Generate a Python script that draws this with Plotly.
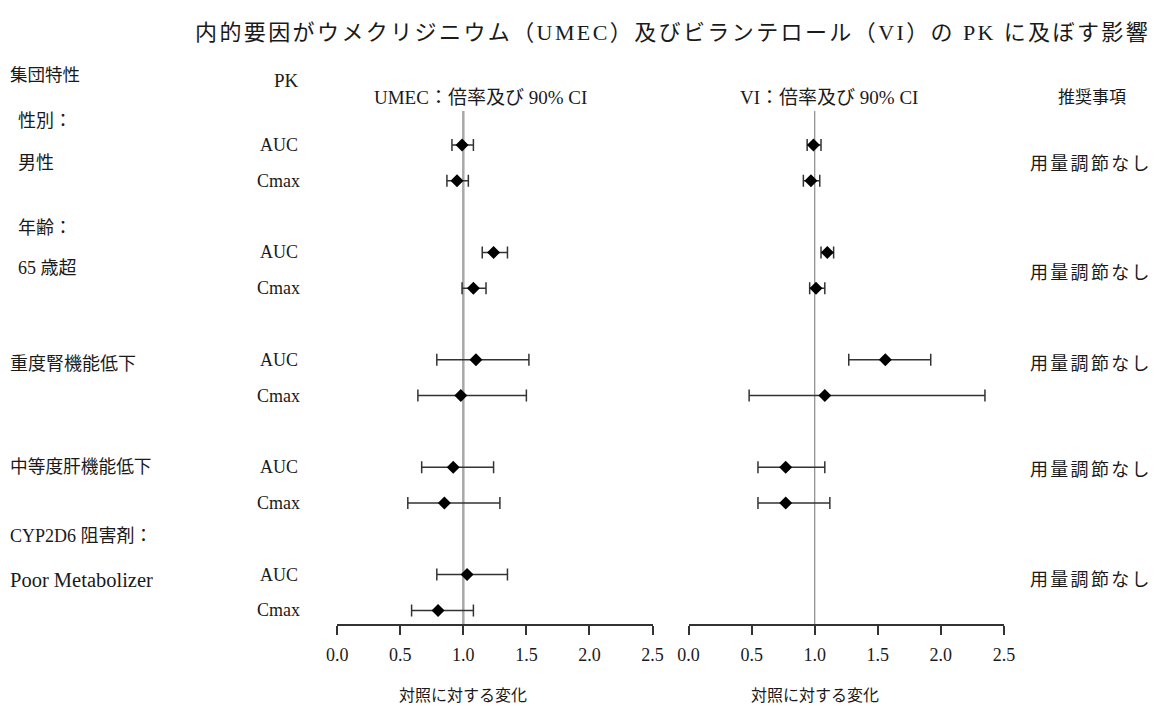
import plotly.graph_objects as go

# --- data -------------------------------------------------------------
group_labels = ["男性", "65 歳超", "重度腎機能低下", "中等度肝機能低下", "Poor Metabolizer"]
pk_params = ["AUC", "Cmax"]

umec_ratio = [0.99, 0.95, 1.24, 1.08, 1.10, 0.98, 0.92, 0.85, 1.03, 0.80]
umec_lo = [0.91, 0.87, 1.15, 0.99, 0.79, 0.64, 0.67, 0.56, 0.79, 0.59]
umec_hi = [1.08, 1.04, 1.35, 1.18, 1.52, 1.50, 1.24, 1.29, 1.35, 1.08]

vi_ratio = [0.99, 0.97, 1.10, 1.01, 1.56, 1.08, 0.77, 0.77, None, None]
vi_lo = [0.94, 0.91, 1.05, 0.96, 1.27, 0.48, 0.55, 0.55, None, None]
vi_hi = [1.05, 1.04, 1.15, 1.08, 1.92, 2.35, 1.08, 1.12, None, None]

x_ticks = [0.0, 0.5, 1.0, 1.5, 2.0, 2.5]
tick_text = ["0.0", "0.5", "1.0", "1.5", "2.0", "2.5"]
recommendation = "用量調節なし"

# --- layout helpers ---------------------------------------------------
W, H = 1157, 706
X_OFF, X_SCALE = 10.9, 0.9817   # horizontal placement of the drawing on the page
FONT = "Liberation Serif, 'Times New Roman', 'Noto Sans CJK JP', serif"
INK = "#1a1a1a"


def px(x):
    return (x - X_OFF) / X_SCALE / W


def py(y):
    return 1 - y / H


def spaced(s, ls):
    return f'<span style="letter-spacing:{ls}px">{s}</span>'


# each subgroup occupies one unit, each group three units
row_pos = [3 * g + s for g in range(len(group_labels)) for s in range(len(pk_params))]
row_param = [pk_params[s] for g in range(len(group_labels)) for s in range(len(pk_params))]


def err(lo, mid, hi):
    plus = [None if m is None else h - m for m, h in zip(mid, hi)]
    minus = [None if m is None else m - l for m, l in zip(mid, lo)]
    return plus, minus


fig = go.Figure()

for ratio, lo, hi, xa, ya in [
    (umec_ratio, umec_lo, umec_hi, "x", "y"),
    (vi_ratio, vi_lo, vi_hi, "x2", "y2"),
]:
    plus, minus = err(lo, ratio, hi)
    fig.add_trace(go.Scatter(
        x=ratio, y=row_pos, xaxis=xa, yaxis=ya, mode="markers",
        marker=dict(symbol="diamond", size=10, color="black"),
        error_x=dict(type="data", array=plus, arrayminus=minus, symmetric=False,
                     color="#333333", thickness=1.5, width=6),
        showlegend=False, hoverinfo="skip",
    ))

y_range = [13.38, -0.95]
y_dom = [py(624), py(111)]
x_common = dict(range=[0, 2.5], tickvals=x_ticks, ticktext=tick_text,
                showline=True, linecolor="#333333", linewidth=1.5,
                ticks="outside", ticklen=9, tickwidth=1.5, tickcolor="#333333",
                showgrid=False, zeroline=False, ticklabelstandoff=5,
                tickfont=dict(family=FONT, size=18, color=INK), fixedrange=True)
y_common = dict(range=y_range, domain=y_dom, visible=False, showgrid=False,
                zeroline=False, fixedrange=True)

fig.update_layout(
    width=W, height=H, autosize=False,
    margin=dict(l=0, r=0, t=0, b=0),
    paper_bgcolor="white", plot_bgcolor="white",
    font=dict(family=FONT, color=INK),
    xaxis=dict(domain=[px(337.3), px(652.9)], anchor="y", **x_common),
    yaxis=dict(anchor="x", **y_common),
    xaxis2=dict(domain=[px(689), px(1004.5)], anchor="y2", **x_common),
    yaxis2=dict(anchor="x2", **y_common),
)

# reference lines at ratio 1.0
fig.add_shape(type="line", xref="x", yref="y domain", x0=1, x1=1, y0=0, y1=1,
              line=dict(color="#a8a8a8", width=2.5), layer="below")
fig.add_shape(type="line", xref="x2", yref="y2 domain", x0=1, x1=1, y0=0, y1=1,
              line=dict(color="#8a8a8a", width=1.2), layer="below")

ann = []


def text(s, x, y, size, xanchor="left", xref="paper", yref="paper"):
    ann.append(dict(text=s, x=x, y=y, xref=xref, yref=yref, xanchor=xanchor,
                    yanchor="middle", showarrow=False,
                    font=dict(family=FONT, size=size, color=INK)))


# title and column headers
text(spaced("内的要因がウメクリジニウム（UMEC）及びビランテロール（VI）の PK に及ぼす影響", 2.4),
     px(673), py(33), 22, "center")
text("集団特性", px(8), py(75), 17.5)
text("PK", px(287), py(81), 19, "center")
text("UMEC：倍率及び 90% CI", px(481), py(97), 19, "center")
text("VI：倍率及び 90% CI", px(829), py(97), 19, "center")
text("推奨事項", px(1093), py(97), 17, "center")

# population descriptors
text("性別：", px(16), py(121), 18)
text(group_labels[0], px(16), py(163), 18)
text("年齢：", px(16), py(228), 18)
text(group_labels[1], px(16), py(268), 18)
text(group_labels[2], px(8), py(364), 18)
text(group_labels[3], px(8), py(467), 17.7)
text("CYP2D6 阻害剤：", px(8), py(536), 18)
text(group_labels[4], px(8), py(580), 20.5)

# PK parameter labels on each row
for pos, p in zip(row_pos, row_param):
    text(p, px(279), pos, 18, "center", yref="y")

# recommendations
for yy in [164, 273, 364, 470, 580]:
    text(spaced(recommendation, 2.3), px(1029), py(yy), 18)

# axis titles
text("対照に対する変化", px(463), py(695), 16, "center")
text("対照に対する変化", px(815), py(695), 16, "center")

fig.update_layout(annotations=ann)
fig.write_html("out.html")
